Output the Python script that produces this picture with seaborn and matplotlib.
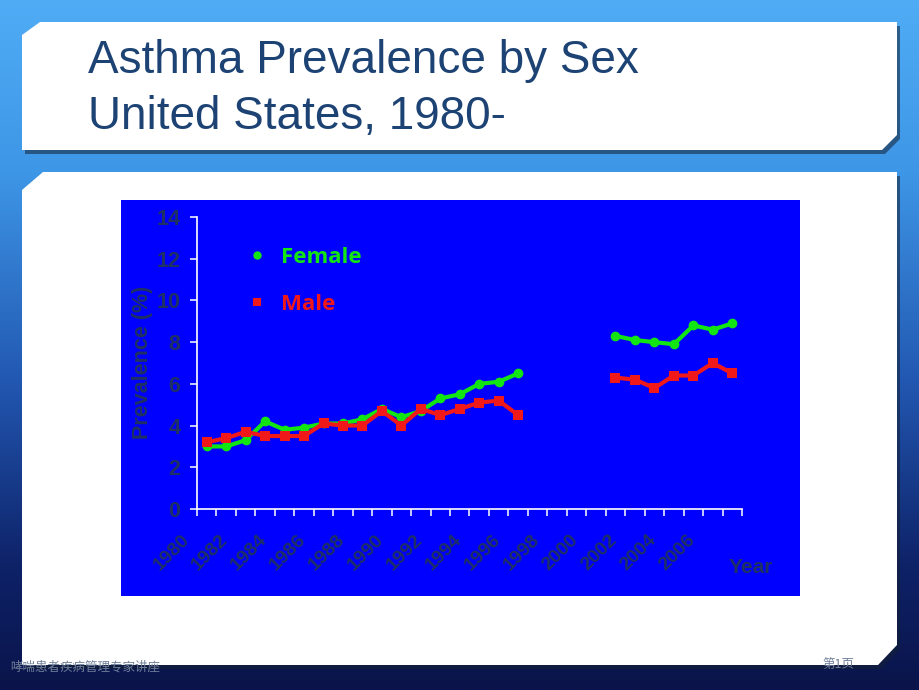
import numpy as np
import pandas as pd
import matplotlib
matplotlib.use("Agg")
import matplotlib.pyplot as plt
from matplotlib.patches import Polygon, Rectangle
from matplotlib.lines import Line2D
from matplotlib.transforms import ScaledTranslation

import seaborn as sns


sns.set_theme(style="white")
plt.rcParams["font.family"] = ["Liberation Sans", "Noto Sans CJK SC", "DejaVu Sans"]

# data
years_early = list(range(1980, 1997))
female_early = [3.0, 3.0, 3.3, 4.2, 3.8, 3.9, 4.1, 4.1, 4.3, 4.8, 4.4, 4.7, 5.3, 5.5, 6.0, 6.1, 6.5]
male_early = [3.2, 3.4, 3.7, 3.5, 3.5, 3.5, 4.1, 4.0, 4.0, 4.7, 4.0, 4.8, 4.5, 4.8, 5.1, 5.2, 4.5]

years_late = list(range(2001, 2008))
female_late = [8.3, 8.1, 8.0, 7.9, 8.8, 8.6, 8.9]
male_late = [6.3, 6.2, 5.8, 6.4, 6.4, 7.0, 6.5]

sexes = ["Female", "Male"]
year_labels = list(range(1980, 2007, 2))
y_ticks = list(range(0, 15, 2))

GREEN = "#12E612"
RED = "#F01818"
CHART_BLUE = "#0000FF"
AXIS_TEXT = "#1F3062"
TITLE_COLOR = "#1C4373"

df = pd.concat([
    pd.DataFrame({"year": years_early, "prevalence": female_early, "sex": "Female", "period": "early"}),
    pd.DataFrame({"year": years_late, "prevalence": female_late, "sex": "Female", "period": "late"}),
    pd.DataFrame({"year": years_early, "prevalence": male_early, "sex": "Male", "period": "early"}),
    pd.DataFrame({"year": years_late, "prevalence": male_late, "sex": "Male", "period": "late"}),
], ignore_index=True)

W, H = 920, 690
fig = plt.figure(figsize=(W / 100, H / 100), dpi=100)

# slide background, drawn in pixel coordinates
bg = fig.add_axes([0, 0, 1, 1], zorder=-10)
stops = np.array([
    [0.00, 80, 172, 245],
    [0.25, 62, 150, 230],
    [0.55, 34, 88, 178],
    [0.82, 14, 34, 104],
    [1.00, 10, 20, 74],
])
t = np.linspace(0, 1, 300)
grad = np.stack([np.interp(t, stops[:, 0], stops[:, i]) for i in (1, 2, 3)], axis=-1) / 255
bg.imshow(grad[:, None, :], aspect="auto", extent=[0, W, H, 0])
bg.set_xlim(0, W)
bg.set_ylim(H, 0)
bg.axis("off")

title_box = [(40, 22), (897, 22), (897, 135), (882, 150), (22, 150), (22, 35)]
body_box = [(43, 172), (897, 172), (897, 645), (878, 665), (22, 665), (22, 190)]
for box in (title_box, body_box):
    bg.add_patch(Polygon([(x + 3, y + 4) for x, y in box], closed=True,
                         facecolor="#142033", alpha=0.55, edgecolor="none"))
    bg.add_patch(Polygon(box, closed=True, facecolor="white", edgecolor="none"))

bg.add_patch(Rectangle((121, 200), 679, 396, facecolor=CHART_BLUE, edgecolor="none"))

bg.text(88, 73, "Asthma Prevalence by Sex", fontsize=33, color=TITLE_COLOR, va="baseline")
bg.text(88, 129, "United States, 1980-", fontsize=33, color=TITLE_COLOR, va="baseline")

bg.text(10, 671, "哮喘患者疾病管理专家讲座", fontsize=9, color="#6F7F99",
        family=["Noto Sans CJK SC", "DejaVu Sans"], va="baseline")
bg.text(822, 668, "第1页", fontsize=9, color="#6F7F99",
        family=["Noto Sans CJK SC", "DejaVu Sans"], va="baseline")

# chart
ax = fig.add_axes([197 / W, 1 - 509 / H, 545 / W, 292 / H])
ax.set_facecolor("none")

sns.lineplot(
    data=df, x="year", y="prevalence", hue="sex", style="sex", units="period",
    estimator=None, hue_order=sexes, style_order=sexes,
    palette={"Female": GREEN, "Male": RED}, markers={"Female": "o", "Male": "s"},
    dashes=False, linewidth=3, markersize=7, markeredgewidth=0,
    legend=False, ax=ax,
)

ax.set_xlim(1979.5, 2007.5)
ax.set_ylim(0, 14)
ax.grid(False)

for side in ("top", "right"):
    ax.spines[side].set_visible(False)
for side in ("left", "bottom"):
    ax.spines[side].set_color("white")
    ax.spines[side].set_linewidth(1.2)

ax.set_xticks(np.arange(1979.5, 2008, 1), minor=True)
ax.set_xticks(year_labels)
ax.set_xticklabels([str(y) for y in year_labels], rotation=45, ha="right", va="top",
                   fontsize=14, fontweight="bold", color=AXIS_TEXT)
ax.tick_params(axis="x", which="minor", bottom=True, length=5, width=1.1, color="white", direction="out")
ax.tick_params(axis="x", which="major", bottom=True, length=0, pad=16)
for lab in ax.get_xticklabels():
    lab.set_transform(lab.get_transform() + ScaledTranslation(-0.14, 0, fig.dpi_scale_trans))

ax.set_yticks(y_ticks)
ax.set_yticklabels([str(v) for v in y_ticks], fontsize=15.5, fontweight="bold", color=AXIS_TEXT)
ax.tick_params(axis="y", left=True, length=5, width=1.1, color="white", direction="out", pad=7)

ax.set_xlabel("")
ax.set_ylabel("Prevalence (%)", fontsize=15.5, fontweight="bold", color=AXIS_TEXT)
ax.yaxis.set_label_coords(-0.081, 0.503)
ax.text(1.0165, -0.199, "Year", transform=ax.transAxes, ha="center", va="center",
        fontsize=15, fontweight="bold", color=AXIS_TEXT)

handles = [
    Line2D([], [], linestyle="none", marker="o", markersize=6, color=GREEN, markeredgewidth=0),
    Line2D([], [], linestyle="none", marker="s", markersize=5.5, color=RED, markeredgewidth=0),
]
leg = ax.legend(handles, sexes, loc="upper left", bbox_to_anchor=(0.089, 0.897),
                frameon=False, borderpad=0, borderaxespad=0, handlelength=1,
                handletextpad=0.6, labelspacing=1.15,
                prop={"family": "Open Sans", "weight": "bold", "size": 16})
for txt, col in zip(leg.get_texts(), (GREEN, RED)):
    txt.set_color(col)

fig.savefig("out.png", dpi=100)
